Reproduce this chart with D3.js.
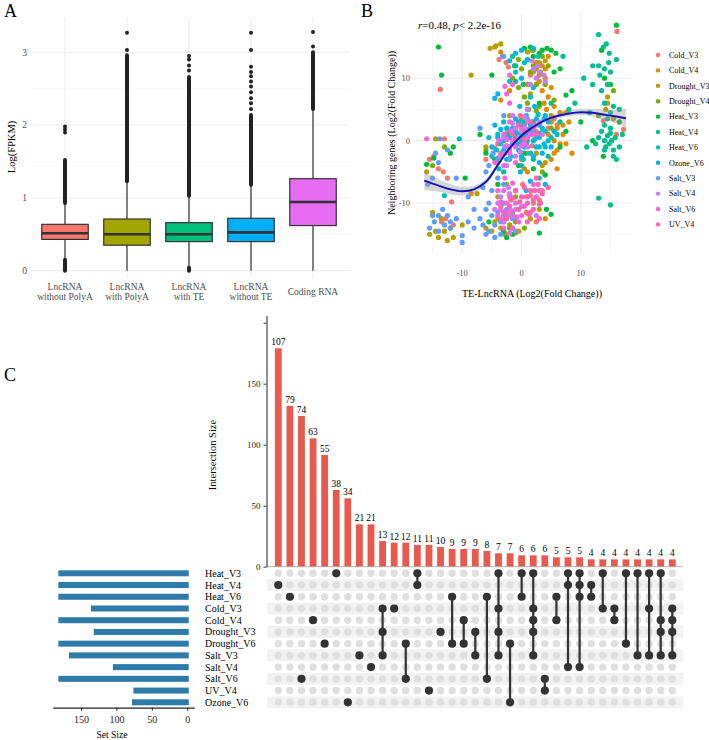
<!DOCTYPE html>
<html>
<head>
<meta charset="utf-8">
<script src="https://cdn.jsdelivr.net/npm/d3@7"></script>
<style>
  body { margin: 0; background: #fff; }
  svg text { font-family: "Liberation Serif", "Times New Roman", serif; }
</style>
</head>
<body>
<script>
// ---------- panel A: expression boxplots ----------
var boxLabels = [["LncRNA", "without PolyA"], ["LncRNA", "with PolyA"], ["LncRNA", "with TE"], ["LncRNA", "without TE"], ["Coding RNA"]];
var boxColors = ["#F8766D", "#A3A500", "#00BF7D", "#00B0F6", "#E76BF3"];
var boxQ1 = [0.43, 0.35, 0.40, 0.40, 0.62];
var boxMedian = [0.515, 0.50, 0.50, 0.527, 0.944];
var boxQ3 = [0.637, 0.71, 0.66, 0.72, 1.264];
var whiskerLow = [0.17, 0, 0.05, 0, 0];
var whiskerHigh = [0.93, 1.23, 1.03, 1.18, 2.22];
// stretches where outliers overlap into a solid column
var outlierRuns = [[[0, 0.15], [0.93, 1.52]], [[1.23, 2.96]], [[0, 0.04], [1.03, 2.66]], [[1.18, 2.14]], [[2.22, 3.0]]];
var outlierPoints = [[1.90, 1.94, 1.98], [3.03, 3.27], [2.75, 2.82, 2.90, 2.95],
  [2.22, 2.30, 2.37, 2.45, 2.53, 2.60, 2.67, 2.73, 2.80, 3.03, 3.27], [3.08, 3.28]];
var boxTicks = [0, 1, 2, 3];

// ---------- panel B: scatter ----------
var seriesNames = ["Cold_V3", "Cold_V4", "Drought_V3", "Drought_V4", "Heat_V3", "Heat_V4", "Heat_V6", "Ozone_V6", "Salt_V3", "Salt_V4", "Salt_V6", "UV_V4"];
var seriesColors = ["#F8766D", "#DE8C00", "#B79F00", "#7CAE00", "#00BA38", "#00C08B", "#00BFC4", "#00B4F0", "#619CFF", "#C77CFF", "#F564E3", "#FF64B0"];
var coldV3 = [[-15.5,-3],[-14.8,-2.5],[-14,-4.5],[-13.2,-5],[-12.5,-6],[-13.7,8.2],[-11.8,-9.8],[-12.8,-12.5],[-11.5,-13.5],[-13.5,-13],[-13,0.3],[-4.5,-1.2],[-3.5,-2],[-2.8,0.5],[-1.5,1],[0.5,2.5],[1.8,-0.8],[2.5,1.5],[-3,13.5],[-2.2,11.8],[1.5,10.5],[-1.8,-9.5],[0.8,-11.5],[2,-10],[16.1,17.5],[13.8,3.2],[17.2,1.8],[16,1],[6,2.5],[-6,-3],[-2,-12],[3.5,-8],[2.5,-13],
  [-4,-0.5],[-2.5,1.2],[-1,-0.5],[0,2.8],[1,-2],[-3.5,-10.5],[-1,-12.8],[0.2,-7],[1.5,-8.8],[3,-9.5],[-2.6,12.5],[-3.8,13],[4.5,2],[5.5,3.5]];
var coldV4 = [[2,11],[3,9.5],[3.5,8],[4.5,7],[5,3],[6,2],[5.5,0],[7,1],[6,-1.5],[4,-3.5],[3,10.5],[2.5,12.5],[4,11.5],[1,9],[-4.5,15],[-3.5,14.2],[6.5,4.5],[8,3],[5,-3],[7.5,-0.5],[4.2,5],[3,1],[2,3],[-8.5,-8.5],[-3.5,6.5],[-2,8],[1,-5],[0,-3],[4.5,13.5],[15.5,3.5],[14.5,6],[-12,-14],[-4,-12.5],
  [2.5,9],[3.5,12],[4,10],[5,8.5],[3.8,6],[5.5,5.5],[6.5,-0.5],[7,2.5],[5.5,-2],[4.5,1],[8.5,-2],[6,-4.5],[-0.5,-14.5],[-3,-13],[7.5,4.5],[4,-12.5]];
var droughtV3 = [[-15.5,-15],[-14.5,-14.5],[-13,-14.5],[-11.5,-15.5],[-10,-13.5],[-15,-11.5],[-13.5,-12.5],[-16,-5],[-14.5,0.3],[-5,-14.5],[-3.5,-14],[-2,-13.5],[-3.5,15.5],[-4.3,15.2],[-5.3,14.8],[2,14.5],[3,12.5],[-8.5,10.5],[14.2,5],[14.5,7],[-2,4],[0.5,-4.5],[1.5,7.5],[3.5,-4],[-6,-1],[-1,-8],[-4,-9],[2.5,-2],[5,4],[-7.5,-8.5],
  [-4.5,-13],[-2.8,-15],[-1.5,-14],[-6,-14],[-12.5,-16],[-14,-15.5],[2.5,11.5],[1,14.2],[4,12.8],[-1,-14.8],[1.5,-12.5],[3,-11]];
var droughtV4 = [[1,13],[2,12],[3.2,11],[0.5,7],[1.2,5],[-3,-12],[-1,-13],[-2,1.5],[0,3.5],[2.5,4.8],[4,9],[1.8,14.5],[-0.5,13],[-1.5,10],[3.5,-5],[-4,-3.5],[-6,-1.5],[-13,-1],[-15,-4],[15.5,8],[13,4],[5,2],[-2.5,-7],[-1,-9],[4.5,12],
  [0,11.5],[1.5,11],[2.5,9],[3.5,13.5],[-0.5,8.5],[1,6],[-2,-14],[0.5,-14],[-1.5,-11.5],[3,5.5],[5.5,6.5]];
var heatV3 = [[-14,15],[-13.5,10.5],[-5,10.5],[-16,-3.8],[16,18.5],[4.3,14.8],[5,14.5],[5.8,14],[13.8,-2.5],[4.2,-11],[5,-11.8],[-12,-2],[-14.8,-2.8],[-11.5,-1],[-6,-2],[-7,1],[2,13.5],[3,14],[-1,12],[7.5,7.3],[10,3],[12,0],[14,10],[13.5,14.5],[15,9],[8.5,8],[-4,-7],[-1.5,-15],[-5.5,-13],[0.5,-2],[3,6],[-9.5,-6],[16.5,3],
  [3.5,14.5],[1.5,15],[0.5,14.8],[5.5,11],[6.5,11.5],[2,-4.5],[-0.5,-4],[4,-5.5],[6.5,-1],[7.5,1.5],[-2.5,-15.5],[-3,-14.5],[3,-14.8],[-4.5,-3]];
var heatV4 = [[13,-9.2],[15,-10.3],[12.5,-0.5],[13,0.5],[13.5,1.5],[14,0],[14.2,-1],[14.5,0.8],[14.8,-0.5],[15,1.2],[15.2,0],[15.5,-1.5],[15.8,0.5],[14,2.5],[14.5,3.5],[15,4.5],[15.5,5.5],[14,6],[13.5,8],[14.5,9],[15,11],[14,11.5],[13,12],[12,12],[13.8,15],[14.3,15.5],[14.8,14],[13,17],[10.5,10],[11,-1],[16.5,-1],[17,1],[15.5,-2.5],[16,13],[-1.5,13.5],[-1,9.5],[7,13.5],[9,6],[11.5,4.5],[-0.5,1],[2,-3],[-3,-5],
  [-1.2,12],[0.3,9],[3,-1],[4.5,-2.5],[6.5,3],[8,5],[5,6],[12,9],[16,-3],[14,-1.5],[15,2],[16.5,5],[13.2,10.5],[14.7,12.5]];
var heatV6 = [[-10.5,0.3],[-3,0],[-2,-1],[-1,0.5],[0,1],[1,0],[2,1.5],[3,0.5],[-0.5,-1.5],[1.5,-2],[-1.5,2],[0.5,3],[2.5,3.5],[3.5,2],[4,-1],[-4,1],[-2.5,-3],[0,-4],[5,0.5],[-3,3],[1,5],[2,8.5],[3,-6],[-13,-8.8],[-1,11],[4,1.5],[-5,-2.5],
  [-2.2,0.8],[-1.2,-0.2],[0.2,0.4],[1.2,1.8],[2.2,0.2],[3.2,1.2],[-0.8,1.2],[0.8,-0.5],[1.8,3],[-3.5,-0.5],[-4.2,-1.5],[2.8,4.2],[3.8,3.5],[4.5,0],[-1.8,-2.5],[0.3,-3],[-0.3,5.5],[1.5,7],[-2,9.5],[0.5,12.5],[2.8,13.5],[-5.5,0.5],[6,1],[-3.8,-4.5]];
var ozoneV6 = [[-2,0.5],[-1,1.5],[0,0],[1,1],[2,0],[3,2.5],[-1.5,-0.5],[0.5,-1],[1.5,2.5],[2.5,-1],[3.5,-2],[-3,-1.5],[-0.5,3],[0.8,4],[-2.5,2],[4.5,3],[-4.5,6.8],[-4,7.5],[-4.5,2.5],[1,13],[0,14.5],[0,10],[1.5,-6.5],[4,-7],[-4,0.5],[0,-2.5],[5.5,1.5],[2.2,5.5],
  [-1.8,1.2],[-0.5,-0.5],[0.6,0.8],[1.8,1.5],[2.8,0.8],[3.8,-0.5],[-2.8,0.2],[-1,3.5],[0.2,2.2],[2,-2.5],[-3.5,1.8],[4,4],[-0.2,-5],[-1,14],[2,14.8],[-2,12.8],[0.8,-8],[-5,-1],[3,-3.5],[5,-1]];
var saltV3 = [[-15.8,-7],[-15,-12],[-14.7,-13],[-14,-14.5],[-13,-13.5],[-12.5,-12],[-14.5,-2],[-14,-3.5],[-11,-6],[-12.5,-1.5],[-10,-16.3],[-10,-15.2],[-8,-14],[-7,-12.5],[-6,-11],[-6.5,-13.5],[-5.5,-14.5],[-4.5,-13.5],[-4,-11.5],[-3,-10],[-5,-8],[-4,-6],[-6,-5],[-4.8,-2],[-7,2],[-3.5,-13],[-2.5,-11],[-1.5,-12.5],[-5,-12],[-2,-3],[-3,4],[1,3.5],[-8,-11],[-9,-9],[-12,-14],[-13.8,0.3],[-3.2,13.5],
  [-3.5,-15],[-4.5,-15.5],[-6,-15],[-2.8,-12.2],[-1,-14.5],[-5.5,-10],[-3,-7],[-6.5,-7.5],[-14,-12],[-13.3,-11],[-15.5,-14],[-12,-13],[-11,-12.5],[-9,-13],[-15,-6],[-4,-2.8],[-2.8,-1],[-5.5,-4]];
var saltV4 = [[-2,-1],[-1,2],[0,1.5],[1,-1],[2,2],[3,3],[-3,0.5],[1.5,9],[2.5,10],[3,11],[2,11.5],[-1.5,4],[0.5,2],[-2.5,-4],[-3.5,-9],[-2,-8.5],[-1,-11],[2.5,-12],[-4,-10],[3.5,1],[1,5],[-1,-2.5],[4,9.5],
  [-2.8,-2],[-1.5,2.8],[0.5,3.8],[2.2,1],[-0.2,-1.8],[1.8,12.8],[2.8,12],[3.8,10.5],[-3,-13],[-1.5,-12],[0,-10.5],[3,-10.2],[-4.5,-11],[-2.2,-7.5]];
var saltV6 = [[-3,1],[-2,-2],[-1.5,0],[-0.5,0.5],[0.5,-0.5],[1.5,1],[2.5,2.5],[-2.5,-0.8],[-3.5,-2.5],[-3,-4],[-2,3],[0,2],[1,3],[-1,-3.5],[-3,-8],[-2,-9],[-1,-10],[0,-12],[-2.5,-11.5],[-3.5,-11],[-1.5,-14],[-0.5,-13],[-2,6],[-2.5,7.5],[-1.5,9],[-16,0.3],[2,-7],[3,-8],[-4,-12],[-3,-14],[1,-9],
  [-2.5,0.2],[-1.8,1.6],[-1,-1],[0,-0.8],[1,0.5],[-3.8,0],[-4.5,-3.5],[-2.8,-6],[-1.5,-6.8],[-3.5,-9.8],[-2.5,-10],[-1.8,-11.2],[-0.8,-12.2],[-3.2,-12.5],[-2,-14.8],[0.5,-10.5],[1.5,-11.5],[2.5,-9],[-4,-8],[-2,10.5],[-2.8,8.7]];
var uvV4 = [[0.5,-7.5],[1.5,-8],[2,-9.5],[2.8,-7],[3.5,-8.5],[1,-10],[0,-9],[-1,-8],[-2,-10.5],[-3,-11.5],[-0.5,-11],[2,-11],[1.5,3],[2.5,1],[0.5,1.5],[-0.5,2.5],[-2,-1.5],[-1,0],[3,-12.5],[4.5,-7.5],[1,-13],
  [0.8,-9],[2.2,-8],[3.2,-10],[1.2,-11.8],[-0.3,-9.8],[-1.5,-9.2],[-2.5,-12.5],[2.5,-6],[0.5,0.2],[1.8,2],[-0.2,4],[-1.5,1]];
var smoothX = [-16.4, -14, -12, -10, -8, -6, -4, -2, 0, 2, 4, 6, 8, 10, 12, 14, 16, 17.6];
var smoothY = [-6.4, -7.2, -7.8, -8.1, -7.8, -6.6, -3.9, -1.2, 0.8, 2.2, 3.3, 3.95, 4.35, 4.55, 4.45, 4.15, 3.85, 3.6];
var smoothSE = [1.5, 1.0, 0.8, 0.7, 0.6, 0.5, 0.4, 0.35, 0.3, 0.3, 0.35, 0.4, 0.45, 0.5, 0.6, 0.8, 1.1, 1.5];
var scatterTicks = [-10, 0, 10];

// ---------- panel C: upset ----------
var setNames = ["Heat_V3", "Heat_V4", "Heat_V6", "Cold_V3", "Cold_V4", "Drought_V3", "Drought_V6", "Salt_V3", "Salt_V4", "Salt_V6", "UV_V4", "Ozone_V6"];
var setSizes = [182, 182, 182, 136, 182, 132, 182, 167, 105, 182, 76, 78];
var interHeights = [179, 131.7, 123.5, 105.2, 91.6, 62.9, 56, 34.7, 34.7, 21, 19.7, 19.7, 17.8, 17.8, 16.1, 14.5, 14.5, 14.5, 12.9, 11, 11, 9.3, 9.3, 9.3, 7.7, 7.7, 7.7, 6, 6, 6, 6, 6, 6, 6, 6];
var interLabels = [107, 79, 74, 63, 55, 38, 34, 21, 21, 13, 12, 12, 11, 11, 10, 9, 9, 9, 8, 7, 7, 6, 6, 6, 5, 5, 5, 4, 4, 4, 4, 4, 4, 4, 4];
var interSets = [
  ["Heat_V4"], ["Heat_V6"], ["Salt_V6"], ["Cold_V4"], ["Drought_V6"], ["Heat_V3"], ["Ozone_V6"], ["Salt_V3"], ["Salt_V4"],
  ["Cold_V3", "Drought_V3", "Salt_V3"], ["Cold_V3"], ["Drought_V6", "Salt_V6"], ["Heat_V3", "Heat_V4"], ["UV_V4"], ["Drought_V3"],
  ["Heat_V6", "Drought_V6"], ["Cold_V4", "Drought_V6"], ["Drought_V3", "Salt_V3"], ["Heat_V6", "Salt_V6"],
  ["Heat_V3", "Cold_V3", "Drought_V3", "Salt_V3"], ["Drought_V6", "Ozone_V6"], ["Heat_V3", "Heat_V6"],
  ["Heat_V3", "Cold_V3", "Cold_V4", "Drought_V3", "Salt_V3"], ["Salt_V6", "UV_V4"], ["Heat_V6", "Cold_V4"],
  ["Heat_V3", "Heat_V4", "Salt_V4"], ["Heat_V3", "Heat_V4", "Heat_V6", "Salt_V4"], ["Heat_V4", "Heat_V6"],
  ["Heat_V3", "Cold_V3"], ["Cold_V3", "Cold_V4"], ["Heat_V3", "Drought_V6"], ["Heat_V3", "Salt_V3"],
  ["Heat_V3", "Cold_V3", "Salt_V3"], ["Heat_V3", "Cold_V4", "Drought_V3", "Salt_V3"], ["Cold_V3", "Cold_V4", "Drought_V3", "Salt_V3"]
];
var interTicks = [0, 50, 100, 150, 200];
var setSizeTicks = [0, 50, 100, 150];

var svg = d3.select("body").append("svg").attr("width", 709).attr("height", 740);

function panelLabel(txt, x, y) {
  svg.append("text").attr("x", x).attr("y", y).attr("font-size", 18).text(txt);
}

// ================= Panel A =================
panelLabel("A", 4, 17);
var ax = d3.scalePoint().domain(d3.range(boxLabels.length)).range([65, 313]);
var ay = d3.scaleLinear().domain([0, 3]).range([270.7, 52.3]);
var gA = svg.append("g");

// grid
gA.selectAll(".minor").data([0.5, 1.5, 2.5]).enter().append("line")
  .attr("x1", 31).attr("x2", 350).attr("y1", d => ay(d)).attr("y2", d => ay(d))
  .attr("stroke", "#F3F3F3").attr("stroke-width", 0.6);
gA.selectAll(".major").data(boxTicks).enter().append("line")
  .attr("x1", 31).attr("x2", 350).attr("y1", d => ay(d)).attr("y2", d => ay(d))
  .attr("stroke", "#EBEBEB").attr("stroke-width", 1);
gA.selectAll(".vgrid").data(d3.range(boxLabels.length)).enter().append("line")
  .attr("x1", d => ax(d)).attr("x2", d => ax(d)).attr("y1", 18).attr("y2", 278)
  .attr("stroke", "#EBEBEB").attr("stroke-width", 1);

var boxW = 46.5;
boxLabels.forEach(function(lab, i) {
  var cx = ax(i);
  gA.append("line").attr("x1", cx).attr("x2", cx)
    .attr("y1", ay(whiskerLow[i])).attr("y2", ay(whiskerHigh[i]))
    .attr("stroke", "#333").attr("stroke-width", 1.2);
  outlierRuns[i].forEach(function(r) {
    gA.append("line").attr("x1", cx).attr("x2", cx)
      .attr("y1", ay(r[0])).attr("y2", ay(r[1]))
      .attr("stroke", "#222").attr("stroke-width", 4).attr("stroke-linecap", "round");
  });
  gA.selectAll(null).data(outlierPoints[i]).enter().append("circle")
    .attr("cx", cx).attr("cy", d => ay(d)).attr("r", 2).attr("fill", "#222");
  gA.append("rect").attr("x", cx - boxW / 2).attr("width", boxW)
    .attr("y", ay(boxQ3[i])).attr("height", ay(boxQ1[i]) - ay(boxQ3[i]))
    .attr("fill", boxColors[i]).attr("stroke", "#333").attr("stroke-width", 1.2);
  gA.append("line").attr("x1", cx - boxW / 2).attr("x2", cx + boxW / 2)
    .attr("y1", ay(boxMedian[i])).attr("y2", ay(boxMedian[i]))
    .attr("stroke", "#333").attr("stroke-width", 2.6);
  var t = gA.append("text").attr("text-anchor", "middle").attr("font-size", 9.5).attr("fill", "#4D4D4D");
  if (lab.length === 1) {
    t.append("tspan").attr("x", cx).attr("y", 294.5).text(lab[0]);
  } else {
    t.append("tspan").attr("x", cx).attr("y", 289.5).text(lab[0]);
    t.append("tspan").attr("x", cx).attr("y", 299.5).text(lab[1]);
  }
});
gA.selectAll(".ytick").data(boxTicks).enter().append("text")
  .attr("x", 27).attr("y", d => ay(d)).attr("dy", "0.35em").attr("text-anchor", "end")
  .attr("font-size", 9.5).attr("fill", "#4D4D4D").text(d => d);
gA.append("text").attr("transform", "translate(15,147) rotate(-90)")
  .attr("text-anchor", "middle").attr("font-size", 10.5).text("Log(FPKM)");

// ================= Panel B =================
panelLabel("B", 361, 17);
var bx = d3.scaleLinear().domain([-18.3, 18.8]).range([413, 633]);
var by = d3.scaleLinear().domain([-18, 20.4]).range([253, 13.3]);
var gB = svg.append("g");
[-15, -5, 5, 15].forEach(function(v) {
  gB.append("line").attr("x1", bx(v)).attr("x2", bx(v)).attr("y1", 13.3).attr("y2", 253).attr("stroke", "#F3F3F3").attr("stroke-width", 0.6);
  gB.append("line").attr("y1", by(v)).attr("y2", by(v)).attr("x1", 413).attr("x2", 633).attr("stroke", "#F3F3F3").attr("stroke-width", 0.6);
});
scatterTicks.forEach(function(v) {
  gB.append("line").attr("x1", bx(v)).attr("x2", bx(v)).attr("y1", 13.3).attr("y2", 253).attr("stroke", "#EBEBEB");
  gB.append("line").attr("y1", by(v)).attr("y2", by(v)).attr("x1", 413).attr("x2", 633).attr("stroke", "#EBEBEB");
});

var seriesPoints = [coldV3, coldV4, droughtV3, droughtV4, heatV3, heatV4, heatV6, ozoneV6, saltV3, saltV4, saltV6, uvV4];
seriesPoints.forEach(function(pts, k) {
  gB.selectAll(null).data(pts).enter().append("circle")
    .attr("cx", d => bx(d[0])).attr("cy", d => by(d[1])).attr("r", 2.6)
    .attr("fill", seriesColors[k]);
});

var smooth = smoothX.map((x, i) => ({ x: x, y: smoothY[i], se: smoothSE[i] }));
gB.append("path").datum(smooth)
  .attr("d", d3.area().curve(d3.curveCatmullRom)
    .x(d => bx(d.x)).y0(d => by(d.y - d.se)).y1(d => by(d.y + d.se)))
  .attr("fill", "#999").attr("fill-opacity", 0.4);
gB.append("path").datum(smooth)
  .attr("d", d3.line().curve(d3.curveCatmullRom).x(d => bx(d.x)).y(d => by(d.y)))
  .attr("fill", "none").attr("stroke", "#1414B4").attr("stroke-width", 2);

gB.selectAll(".xt").data(scatterTicks).enter().append("text")
  .attr("x", d => bx(d)).attr("y", 276).attr("text-anchor", "middle")
  .attr("font-size", 8.5).attr("fill", "#4D4D4D").text(d => d);
gB.selectAll(".yt").data(scatterTicks).enter().append("text")
  .attr("x", 410).attr("y", d => by(d)).attr("dy", "0.35em").attr("text-anchor", "end")
  .attr("font-size", 8.5).attr("fill", "#4D4D4D").text(d => d);
gB.append("text").attr("x", 532).attr("y", 297).attr("text-anchor", "middle")
  .attr("font-size", 10).text("TE-LncRNA (Log2(Fold Change))");
gB.append("text").attr("transform", "translate(395,133) rotate(-90)")
  .attr("text-anchor", "middle").attr("font-size", 10).text("Neighboring genes (Log2(Fold Change))");

var ann = gB.append("text").attr("x", 418).attr("y", 29).attr("font-size", 11);
ann.append("tspan").attr("font-style", "italic").text("r");
ann.append("tspan").text("=0.48,  ");
ann.append("tspan").attr("font-style", "italic").text("p");
ann.append("tspan").text("< 2.2e-16");

var leg = gB.selectAll(".leg").data(seriesNames).enter().append("g")
  .attr("transform", (d, i) => "translate(658," + (55 + i * 15.4) + ")");
leg.append("circle").attr("r", 2.2).attr("fill", (d, i) => seriesColors[i]);
leg.append("text").attr("x", 11).attr("dy", "0.35em").attr("font-size", 8).text(d => d);

// ================= Panel C =================
panelLabel("C", 4, 381);
var gC = svg.append("g");
var cx = d3.scalePoint().domain(d3.range(interHeights.length)).range([278.3, 672.3]);
var iy = d3.scaleLinear().domain([0, 206]).range([566.7, 315.4]);
var ry = d3.scalePoint().domain(setNames).range([573.3, 702.3]);
var sx = d3.scaleLinear().domain([-10, 190]).range([194.3, 52.7]);

// intersection bars
gC.selectAll(".ibar").data(interHeights).enter().append("rect")
  .attr("x", (d, i) => cx(i) - 3.4).attr("width", 6.8)
  .attr("y", d => iy(d)).attr("height", d => iy(0) - iy(d))
  .attr("fill", "#E8594E");
gC.selectAll(".ilab").data(interLabels).enter().append("text")
  .attr("x", (d, i) => cx(i)).attr("y", (d, i) => iy(interHeights[i]) - 3)
  .attr("text-anchor", "middle").attr("font-size", 9.5).text(d => d);
gC.append("line").attr("x1", 266.5).attr("x2", 683).attr("y1", iy(0)).attr("y2", iy(0))
  .attr("stroke", "#A0A0A0").attr("stroke-width", 0.8);

var yAxis = gC.append("g").attr("transform", "translate(266.5,0)")
  .call(d3.axisLeft(iy).tickValues(interTicks).tickSize(3).tickSizeOuter(0)
    .tickFormat(d => d === 200 ? "" : d));
yAxis.select(".domain").attr("stroke", "#555").attr("stroke-width", 1.3);
yAxis.selectAll(".tick line").attr("stroke", "#555").attr("stroke-width", 1.2);
yAxis.selectAll(".tick text").attr("font-family", "Liberation Serif").attr("font-size", 9).attr("fill", "#222");
gC.append("text").attr("transform", "translate(216,455) rotate(-90)")
  .attr("text-anchor", "middle").attr("font-size", 10.5).text("Intersection Size");

// matrix background bands
var rowH = ry.step();
gC.selectAll(".band").data(setNames.filter((d, i) => i % 2 === 1)).enter().append("rect")
  .attr("x", 267).attr("width", 416).attr("y", d => ry(d) - rowH / 2).attr("height", rowH)
  .attr("fill", "#F2F2F2");

// empty dots
interSets.forEach(function(sets, i) {
  gC.selectAll(null).data(setNames).enter().append("circle")
    .attr("cx", cx(i)).attr("cy", d => ry(d)).attr("r", 3.7).attr("fill", "#DFDFDF");
});
// filled dots and connectors
interSets.forEach(function(sets, i) {
  var ys = sets.map(s => ry(s));
  if (ys.length > 1) {
    gC.append("line").attr("x1", cx(i)).attr("x2", cx(i))
      .attr("y1", d3.min(ys)).attr("y2", d3.max(ys))
      .attr("stroke", "#333").attr("stroke-width", 2.2);
  }
  gC.selectAll(null).data(ys).enter().append("circle")
    .attr("cx", cx(i)).attr("cy", d => d).attr("r", 4.1).attr("fill", "#333");
});

// set size bars
gC.selectAll(".sbar").data(setSizes).enter().append("rect")
  .attr("x", d => sx(d)).attr("width", d => sx(0) - sx(d) + 1.5)
  .attr("y", (d, i) => ry(setNames[i]) - 3).attr("height", 6)
  .attr("fill", "#2E7BAA");
gC.selectAll(".sname").data(setNames).enter().append("text")
  .attr("x", 205).attr("y", d => ry(d)).attr("dy", "0.35em")
  .attr("font-size", 10).text(d => d);
var xAxis = gC.append("g").attr("transform", "translate(0,707.7)")
  .call(d3.axisBottom(sx).tickValues(setSizeTicks).tickSize(3).tickSizeOuter(0));
xAxis.select(".domain").attr("stroke", "#222").attr("stroke-width", 1.3);
xAxis.selectAll(".tick line").attr("stroke", "#222");
xAxis.selectAll(".tick text").attr("font-family", "Liberation Serif").attr("font-size", 10).attr("fill", "#222").attr("dy", "0.9em");
gC.append("text").attr("x", 112).attr("y", 738).attr("text-anchor", "middle")
  .attr("font-size", 9.5).text("Set Size");
</script>
</body>
</html>
